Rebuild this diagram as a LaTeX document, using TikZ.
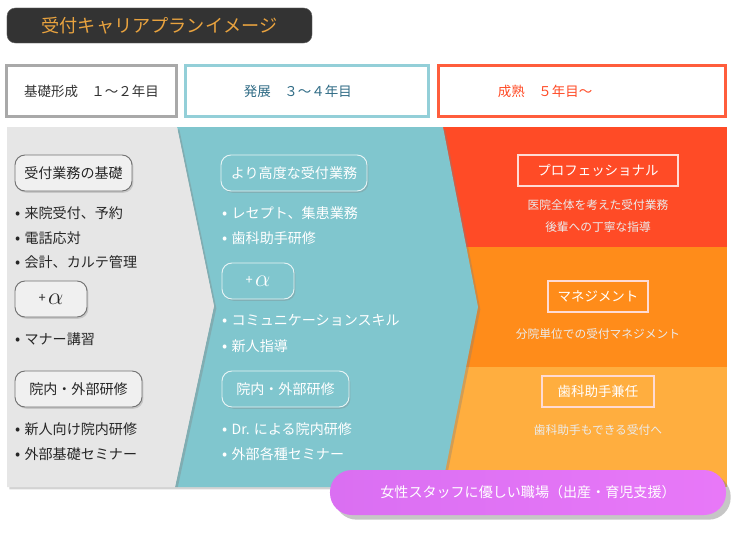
\documentclass[tikz,border=0pt]{standalone}
\usepackage{fontspec}
\setmainfont{Noto Sans CJK JP}
\usetikzlibrary{shadows,positioning}
\definecolor{sumi}{HTML}{333333}
\definecolor{kincha}{HTML}{E9A33F}
\definecolor{nezumi}{HTML}{E6E6E6}
\definecolor{hai}{HTML}{A9A9A9}
\definecolor{asagi}{HTML}{80C6CE}
\definecolor{mizu}{HTML}{93CFD8}
\definecolor{ai}{HTML}{2F6B85}
\definecolor{shu}{HTML}{FF4B26}
\definecolor{daidai}{HTML}{FF8C1A}
\definecolor{yamabuki}{HTML}{FFAE3F}
\definecolor{fuji}{HTML}{DA6FF2}
\definecolor{fujiusu}{HTML}{E878F8}
\tikzset{
  midashi/.style={rectangle, draw, line width=2.5pt, fill=white, minimum height=1.53cm,
                  inner ysep=0pt, font=\fontsize{11.5}{13}\selectfont},
  kakomi/.style={rectangle, rounded corners=0.3cm, draw=black!55, line width=0.8pt, fill=nezumi!60!white,
                 minimum height=1.08cm, inner sep=0pt, font=\fontsize{12}{14}\selectfont, text=black!85,
                 drop shadow={shadow xshift=1.2pt, shadow yshift=-1.5pt, opacity=.3}},
  kakomit/.style={kakomi, draw=white!80!asagi, fill=asagi, text=white},
  koumoku/.style={anchor=west, inner sep=0pt, font=\fontsize{12}{14}\selectfont, text=black!85},
  koumokut/.style={koumoku, text=white},
  waku/.style={rectangle, draw=white!80!shu, line width=1pt, minimum height=0.93cm, inner sep=0pt,
               text=white, font=\fontsize{11.5}{14}\selectfont},
  setsumei/.style={inner sep=0pt, text=white!92!black, font=\fontsize{10}{12}\selectfont},
  kage/.style={drop shadow={shadow xshift=2pt, shadow yshift=-2pt, opacity=.35}}
}
\newcommand{\plusalpha}{\raisebox{1.5pt}{\fontsize{11}{11}\selectfont +}\,{\fontsize{20}{20}\selectfont$\alpha$}}
\newcommand{\ten}{{\fontsize{13}{14}\selectfont\textbullet}\hspace{0.3em}}

\begin{document}
\begin{tikzpicture}[x=0.03cm, y=-0.03cm]
  \useasboundingbox (0,0) rectangle (747,533);
  % titulo
  \node (titulo) [rectangle, rounded corners=0.25cm, fill=sumi, draw=black!60, minimum width=9.15cm,
        minimum height=1.05cm, text=kincha, font=\fontsize{15.5}{18}\selectfont] at (159.5,25.5) {受付キャリアプランイメージ};
  % midashi
  \node (kiso) [midashi, draw=hai, minimum width=5.1cm, text=black!80] at (91.5,91) {基礎形成　１～２年目};
  \node (hatten) [midashi, draw=mizu, inner xsep=1.755cm, text width=3.78cm, align=left, text=ai] at (307,91) {発展　３～４年目};
  \node (seijuku) [midashi, draw=shu!90!white, inner xsep=1.785cm, text width=5.04cm, align=left, text=shu] at (582,91) {成熟　５年目～};
  % bandas
  \fill[shu] (420,127) rectangle (727,247);
  \fill[daidai] (420,247) rectangle (727,367);
  \fill[yamabuki] (420,367) rectangle (727,487);
  \fill[asagi, kage] (177,127) -- (443,127) -- (478,307) -- (442,487) -- (175,487) -- (214,306) -- cycle;
  \fill[nezumi, kage] (7,127) -- (177,127) -- (214,306) -- (175,487) -- (7,487) -- cycle;
  % kiso
  \node (kisogyomu) [kakomi, minimum width=3.51cm] at (73.5,173) {受付業務の基礎};
  \node (k1) [koumoku] at (15,213) {\ten 来院受付、予約};
  \node (k2) [koumoku] at (15,238.5) {\ten 電話応対};
  \node (k3) [koumoku] at (15,262) {\ten 会計、カルテ管理};
  \node (kalpha) [kakomi, minimum width=2.16cm] at (51,299) {\plusalpha};
  \node (k4) [koumoku] at (15,339) {\ten マナー講習};
  \node (kkenshu) [kakomi, minimum width=3.81cm] at (78.5,389) {院内・外部研修};
  \node (k5) [koumoku] at (15,429) {\ten 新人向け院内研修};
  \node (k6) [koumoku] at (15,454) {\ten 外部基礎セミナー};
  % hatten
  \node (kodo) [kakomit, minimum width=4.38cm] at (294,173) {より高度な受付業務};
  \node (h1) [koumokut] at (222,213) {\ten レセプト、集患業務};
  \node (h2) [koumokut] at (222,238) {\ten 歯科助手研修};
  \node (halpha) [kakomit, minimum width=2.16cm] at (258,281) {\plusalpha};
  \node (h3) [koumokut] at (222,320.5) {\ten コミュニケーションスキル};
  \node (h4) [koumokut] at (222,346) {\ten 新人指導};
  \node (hkenshu) [kakomit, minimum width=3.81cm] at (285.5,389) {院内・外部研修};
  \node (h5) [koumokut] at (222,429) {\ten Dr. による院内研修};
  \node (h6) [koumokut] at (222,454) {\ten 外部各種セミナー};
  % seijuku
  \node (pro) [waku, minimum width=4.8cm] at (598,170.5) {プロフェッショナル};
  \node (pro1) [setsumei] at (598,205) {医院全体を考えた受付業務};
  \node (pro2) [setsumei] at (598,227) {後輩への丁寧な指導};
  \node (mane) [waku, minimum width=3cm] at (598,296.5) {マネジメント};
  \node (mane1) [setsumei] at (598,334) {分院単位での受付マネジメント};
  \node (shika) [waku, minimum width=3.36cm] at (598,391.5) {歯科助手兼任};
  \node (shika1) [setsumei] at (598,430) {歯科助手もできる受付へ};
  % josei
  \node (josei) [rectangle, rounded corners=0.66cm, minimum width=11.88cm, minimum height=1.35cm,
        left color=fuji, right color=fujiusu, text=white, font=\fontsize{12}{14}\selectfont,
        drop shadow={shadow xshift=4pt, shadow yshift=-4pt, opacity=.45}] at (528,492.5) {女性スタッフに優しい職場（出産・育児支援）};
\end{tikzpicture}
\end{document}
